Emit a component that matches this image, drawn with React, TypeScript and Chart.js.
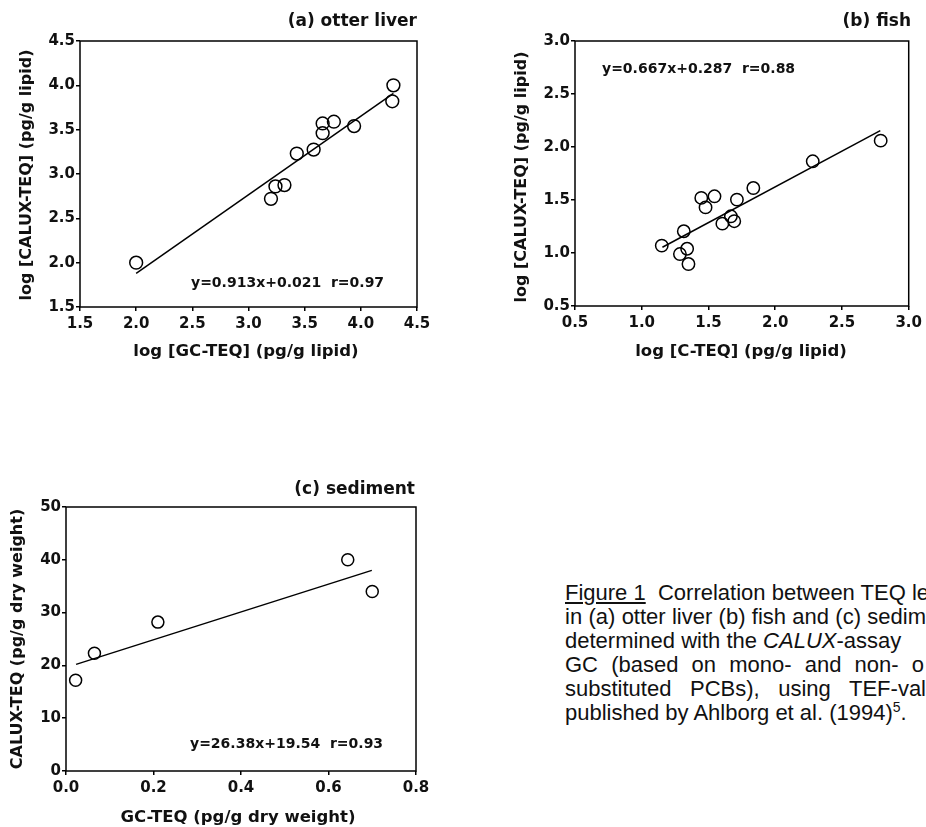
import React, { useEffect, useRef } from "react";
import { Chart, registerables } from "chart.js";

Chart.register(...registerables);

// ---------- Panel (a) otter liver ----------
const otterGcTeq = [2.0, 3.2, 3.24, 3.32, 3.43, 3.58, 3.66, 3.66, 3.76, 3.94, 4.29, 4.28];
const otterCaluxTeq = [2.0, 2.72, 2.86, 2.875, 3.23, 3.275, 3.46, 3.57, 3.59, 3.54, 4.0, 3.82];
const otterFitX = [2.0, 4.29];
const otterFitY = [1.88, 3.91];
const otterXTicks = [1.5, 2.0, 2.5, 3.0, 3.5, 4.0, 4.5];
const otterYTicks = [1.5, 2.0, 2.5, 3.0, 3.5, 4.0, 4.5];

// ---------- Panel (b) fish ----------
const fishCTeq = [1.15, 1.286, 1.315, 1.34, 1.35, 1.446, 1.478, 1.545, 1.604, 1.668, 1.693, 1.713, 1.836, 2.281, 2.79];
const fishCaluxTeq = [1.07, 0.99, 1.205, 1.04, 0.896, 1.52, 1.43, 1.535, 1.277, 1.346, 1.3, 1.504, 1.613, 1.865, 2.06];
const fishFitX = [1.155, 2.787];
const fishFitY = [1.054, 2.154];
const fishXTicks = [0.5, 1.0, 1.5, 2.0, 2.5, 3.0];
const fishYTicks = [0.5, 1.0, 1.5, 2.0, 2.5, 3.0];

// ---------- Panel (c) sediment ----------
const sedGcTeq = [0.022, 0.065, 0.21, 0.644, 0.7];
const sedCaluxTeq = [17.2, 22.3, 28.2, 40.0, 34.0];
const sedFitX = [0.023, 0.699];
const sedFitY = [20.2, 38.0];
const sedXTicks = [0.0, 0.2, 0.4, 0.6, 0.8];
const sedYTicks = [0, 10, 20, 30, 40, 50];

const FONT = '"DejaVu Sans", "Liberation Sans", sans-serif';
const INK = "#111";

type PanelCfg = {
  x: number; y: number; W: number; H: number;
  area: { l: number; r: number; t: number; b: number };
  xs: number[]; ys: number[]; fitX: number[]; fitY: number[];
  xTicks: number[]; yTicks: number[];
  xDec: number; yDec: number;
  radius: number;
  title: string; titleX: number; titleY: number;
  xTitle: string; xTitleX: number; xTitleY: number;
  yTitle: string; yTitleX: number; yTitleY: number;
  note: string; noteX: number; noteY: number;
};

const panels: PanelCfg[] = [
  {
    x: 0, y: 0, W: 460, H: 372,
    area: { l: 80, r: 417, t: 41, b: 307 },
    xs: otterGcTeq, ys: otterCaluxTeq, fitX: otterFitX, fitY: otterFitY,
    xTicks: otterXTicks, yTicks: otterYTicks, xDec: 1, yDec: 1,
    radius: 6.4,
    title: "(a) otter liver", titleX: 417, titleY: 22,
    xTitle: "log [GC-TEQ] (pg/g lipid)", xTitleX: 246, xTitleY: 352,
    yTitle: "log [CALUX-TEQ] (pg/g lipid)", yTitleX: 27, yTitleY: 175,
    note: "y=0.913x+0.021  r=0.97", noteX: 191, noteY: 283,
  },
  {
    x: 460, y: 0, W: 466, H: 372,
    area: { l: 115, r: 452, t: 41, b: 306 },
    xs: fishCTeq, ys: fishCaluxTeq, fitX: fishFitX, fitY: fishFitY,
    xTicks: fishXTicks, yTicks: fishYTicks, xDec: 1, yDec: 1,
    radius: 6.2,
    title: "(b) fish", titleX: 451, titleY: 22,
    xTitle: "log [C-TEQ] (pg/g lipid)", xTitleX: 281, xTitleY: 352,
    yTitle: "log [CALUX-TEQ] (pg/g lipid)", yTitleX: 62, yTitleY: 177,
    note: "y=0.667x+0.287  r=0.88", noteX: 142, noteY: 69,
  },
  {
    x: 0, y: 440, W: 460, H: 387,
    area: { l: 66, r: 416, t: 67, b: 331 },
    xs: sedGcTeq, ys: sedCaluxTeq, fitX: sedFitX, fitY: sedFitY,
    xTicks: sedXTicks, yTicks: sedYTicks, xDec: 1, yDec: 0,
    radius: 6.0,
    title: "(c) sediment", titleX: 415, titleY: 50,
    xTitle: "GC-TEQ (pg/g dry weight)", xTitleX: 238, xTitleY: 378,
    yTitle: "CALUX-TEQ (pg/g dry weight)", yTitleX: 18, yTitleY: 199,
    note: "y=26.38x+19.54  r=0.93", noteX: 190, noteY: 304,
  },
];

function decorPlugin(cfg: PanelCfg) {
  return {
    id: "decor",
    afterDraw(chart: any) {
      const { ctx, chartArea: a } = chart;
      ctx.save();
      ctx.strokeStyle = "#000";
      ctx.lineWidth = 1.5;
      ctx.strokeRect(a.left, a.top, a.right - a.left, a.bottom - a.top);
      ctx.fillStyle = INK;
      ctx.textBaseline = "middle";
      ctx.font = `bold 17px ${FONT}`;
      ctx.textAlign = "right";
      ctx.fillText(cfg.title, cfg.titleX, cfg.titleY);
      ctx.font = `bold 16.5px ${FONT}`;
      ctx.textAlign = "center";
      ctx.fillText(cfg.xTitle, cfg.xTitleX, cfg.xTitleY);
      ctx.save();
      ctx.translate(cfg.yTitleX, cfg.yTitleY);
      ctx.rotate(-Math.PI / 2);
      ctx.font = `bold 16px ${FONT}`;
      ctx.fillText(cfg.yTitle, 0, 0);
      ctx.restore();
      ctx.font = `bold 14px ${FONT}`;
      ctx.textAlign = "left";
      ctx.fillText(cfg.note, cfg.noteX, cfg.noteY);
      ctx.restore();
    },
  };
}

function Panel({ cfg }: { cfg: PanelCfg }) {
  const ref = useRef<HTMLCanvasElement>(null);
  useEffect(() => {
    const canvas = ref.current!;
    const { area, W, H } = cfg;
    const tickFont = { family: FONT, weight: "bold" as const, size: 15 };
    const chart = new Chart(canvas, {
      type: "scatter",
      data: {
        datasets: [
          {
            data: cfg.xs.map((v, i) => ({ x: v, y: cfg.ys[i] })),
            pointStyle: "circle",
            pointRadius: cfg.radius,
            pointBorderWidth: 1.5,
            pointBorderColor: "#000",
            pointBackgroundColor: "rgba(0,0,0,0)",
            showLine: false,
          },
          {
            data: cfg.fitX.map((v, i) => ({ x: v, y: cfg.fitY[i] })),
            showLine: true,
            borderColor: "#000",
            borderWidth: 1.5,
            pointRadius: 0,
            fill: false,
          },
        ],
      },
      options: {
        responsive: false,
        animation: false,
        devicePixelRatio: 1,
        layout: { padding: { left: 0, top: area.t, right: W - area.r, bottom: 0 } },
        plugins: { legend: { display: false }, tooltip: { enabled: false }, title: { display: false } },
        events: [],
        scales: {
          x: {
            type: "linear",
            min: cfg.xTicks[0],
            max: cfg.xTicks[cfg.xTicks.length - 1],
            afterBuildTicks: (s: any) => { s.ticks = cfg.xTicks.map((v) => ({ value: v })); },
            afterFit: (s: any) => { s.height = H - area.b; },
            ticks: {
              font: tickFont, color: INK, padding: 4, maxRotation: 0, autoSkip: false,
              callback: (v: any) => Number(v).toFixed(cfg.xDec),
            },
            grid: { drawOnChartArea: false, drawTicks: true, tickLength: 4, color: "#000", lineWidth: 1.5 },
            border: { display: false },
          },
          y: {
            type: "linear",
            min: cfg.yTicks[0],
            max: cfg.yTicks[cfg.yTicks.length - 1],
            afterBuildTicks: (s: any) => { s.ticks = cfg.yTicks.map((v) => ({ value: v })); },
            afterFit: (s: any) => { s.width = area.l; },
            ticks: {
              font: tickFont, color: INK, padding: 1, autoSkip: false,
              callback: (v: any) => Number(v).toFixed(cfg.yDec),
            },
            grid: { drawOnChartArea: false, drawTicks: true, tickLength: 4, color: "#000", lineWidth: 1.5 },
            border: { display: false },
          },
        },
      },
      plugins: [decorPlugin(cfg)],
    } as any);
    return () => chart.destroy();
  }, [cfg]);
  return (
    <canvas
      ref={ref}
      width={cfg.W}
      height={cfg.H}
      style={{ position: "absolute", left: cfg.x, top: cfg.y, width: cfg.W, height: cfg.H }}
    />
  );
}

const capBase: React.CSSProperties = {
  position: "absolute",
  left: 565,
  fontFamily: '"Liberation Sans", Arial, sans-serif',
  fontSize: 22,
  lineHeight: "24px",
  whiteSpace: "nowrap",
  textAlign: "justify",
  textAlignLast: "justify" as any,
  color: INK,
};

export default function App() {
  return (
    <div
      style={{
        position: "absolute", left: 0, top: 0, width: 926, height: 827,
        overflow: "hidden", background: "#fff",
      }}
    >
      {panels.map((p, i) => (
        <Panel key={i} cfg={p} />
      ))}
      <div style={{ ...capBase, top: 581, width: 374 }}>
        <span style={{ textDecoration: "underline" }}>Figure 1</span>{"\u00a0 "}Correlation between TEQ lev
      </div>
      <div style={{ ...capBase, top: 605, width: 361 }}>in (a) otter liver (b) fish and (c) sedim</div>
      <div style={{ ...capBase, top: 629, width: 334 }}>
        determined with the <i>CALUX</i>-assay
      </div>
      <div style={{ ...capBase, top: 653, width: 359 }}>GC (based on mono- and non- o</div>
      <div style={{ ...capBase, top: 677, width: 361 }}>substituted PCBs), using TEF-val</div>
      <div style={{ ...capBase, top: 701, textAlign: "left", textAlignLast: "left" as any }}>
        published by Ahlborg et al. (1994)<sup style={{ fontSize: 14, lineHeight: 0 }}>5</sup>.
      </div>
    </div>
  );
}
